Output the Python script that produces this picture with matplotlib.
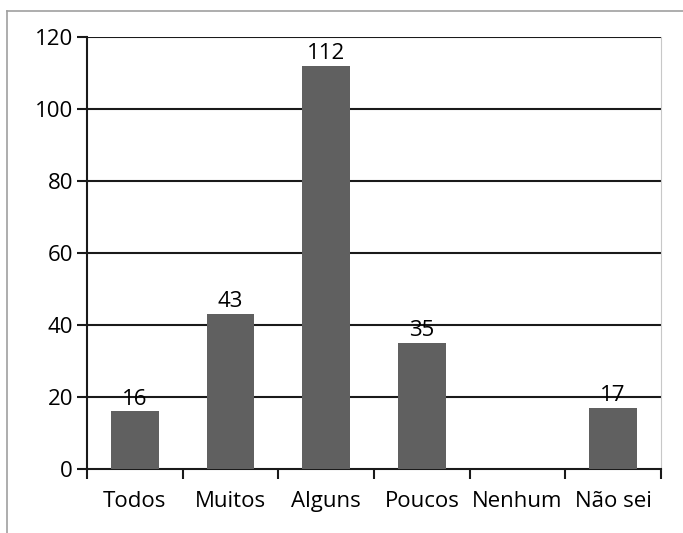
import numpy as np
import matplotlib
matplotlib.use("Agg")
import matplotlib.pyplot as plt
from matplotlib.lines import Line2D

categories = ["Todos", "Muitos", "Alguns", "Poucos", "Nenhum", "Não sei"]
values = [16, 43, 112, 35, 0, 17]
yticks = [0, 20, 40, 60, 80, 100, 120]

plt.rcParams['font.family'] = ['Open Sans', 'DejaVu Sans']
fs = 16

fig = plt.figure(figsize=(6.83, 5.33), dpi=100)
ax = fig.add_axes([87/683, 1 - 469/533, (661-87)/683, (469-37)/533])

x = np.arange(len(categories))
ax.bar(x, values, width=0.5, color='#606060', zorder=3)

# value labels (no label for zero)
for xi, v in zip(x, values):
    if v > 0:
        ax.text(xi, v + 0.5, str(v), ha='center', va='bottom', fontsize=fs, zorder=4)

ax.set_xlim(-0.5, len(categories) - 0.5)
ax.set_ylim(0, 120)
ax.set_yticks(yticks)
ax.set_yticklabels([str(t) for t in yticks], fontsize=fs)
for t in yticks[1:]:
    ax.axhline(t, color='#1a1a1a', lw=1.5, zorder=1)

ax.set_xticks(x)
ax.set_xticklabels(categories, fontsize=fs)
ax.set_xticks(np.arange(len(categories) + 1) - 0.5, minor=True)
ax.tick_params(axis='x', which='major', length=0, pad=16)
ax.tick_params(axis='x', which='minor', length=7.5, width=1.5, direction='out', color='#1a1a1a')
ax.tick_params(axis='y', length=7, width=1.5, direction='out', color='#1a1a1a', pad=3)

ax.spines['top'].set_visible(False)
ax.spines['right'].set_color('#c8c8c8')
ax.spines['left'].set_color('#1a1a1a')
ax.spines['bottom'].set_color('#1a1a1a')
ax.spines['left'].set_linewidth(1.5)
ax.spines['bottom'].set_linewidth(1.5)

# outer frame lines (top and left)
fig.add_artist(Line2D([7/683, 1], [1 - 11/533, 1 - 11/533], color='#a0a0a0', lw=1.2, transform=fig.transFigure))
fig.add_artist(Line2D([7/683, 7/683], [0, 1 - 11/533], color='#a0a0a0', lw=1.2, transform=fig.transFigure))

fig.savefig("out.png", dpi=100)
